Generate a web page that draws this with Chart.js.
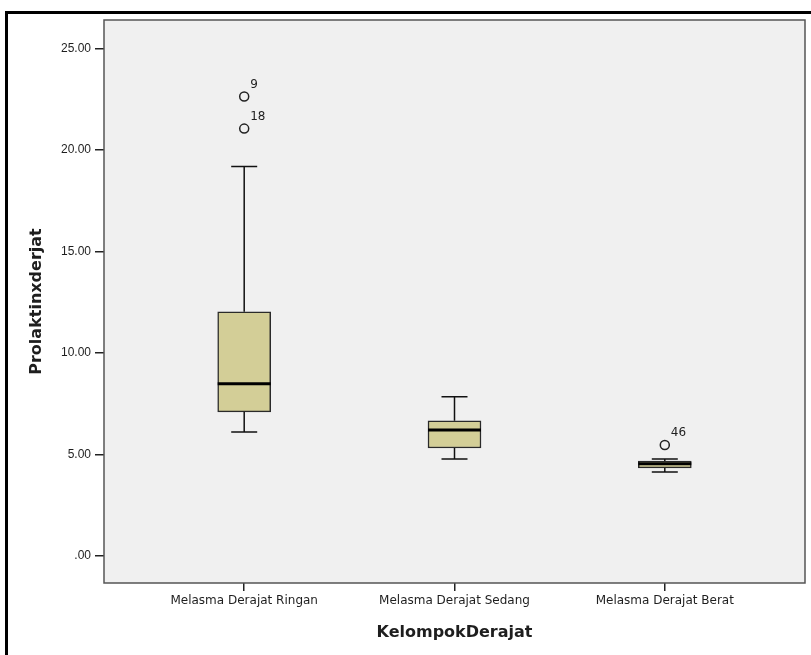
<!DOCTYPE html>
<html>
<head>
<meta charset="utf-8">
<title>Prolaktinxderjat by KelompokDerajat</title>
<script src="https://cdn.jsdelivr.net/npm/chart.js@4/dist/chart.umd.min.js"></script>
<style>
  body { margin: 0; background: #ffffff; }
  #wrap { width: 811px; height: 655px; }
</style>
</head>
<body>
<div id="wrap"><canvas id="boxChart" width="811" height="655"></canvas></div>
<script>
// Data
const categories = ['Melasma Derajat Ringan', 'Melasma Derajat Sedang', 'Melasma Derajat Berat'];
const lowerWhisker = [6.11, 4.78, 4.14];
const q1 = [7.10, 5.32, 4.34];
const median = [8.48, 6.21, 4.54];
const q3 = [12.03, 6.66, 4.68];
const upperWhisker = [19.18, 7.84, 4.78];

const outlierGroup = [0, 0, 2];
const outlierValue = [22.63, 21.05, 5.47];
const outlierCase = ['9', '18', '46'];

const yTicks = [0, 5, 10, 15, 20, 25];

const textColor = '#1e1e1e';

// whiskers, medians, frames and case labels drawn through the scales
const boxplotExtras = {
    id: 'boxplotExtras',
    beforeDraw(chart) {
        const { ctx, chartArea: a } = chart;
        ctx.save();
        ctx.fillStyle = '#f0f0f0';
        ctx.fillRect(a.left, a.top, a.right - a.left, a.bottom - a.top);
        // outer frame (only left/top edges visible)
        ctx.strokeStyle = '#000';
        ctx.lineWidth = 3;
        ctx.strokeRect(6.5, 12.5, 1000, 1000);
        ctx.restore();
    },
    afterDatasetsDraw(chart) {
        const { ctx } = chart;
        const xs = chart.scales.x, ys = chart.scales.y;
        const bars = chart.getDatasetMeta(0).data;
        ctx.save();
        categories.forEach((c, i) => {
            const cx = xs.getPixelForValue(i);
            const half = bars[i].width / 2;
            const capHalf = 13;
            ctx.strokeStyle = '#111';
            ctx.lineWidth = 1.5;
            ctx.beginPath();
            ctx.moveTo(cx, ys.getPixelForValue(q3[i]));
            ctx.lineTo(cx, ys.getPixelForValue(upperWhisker[i]));
            ctx.moveTo(cx, ys.getPixelForValue(q1[i]));
            ctx.lineTo(cx, ys.getPixelForValue(lowerWhisker[i]));
            ctx.moveTo(cx - capHalf, ys.getPixelForValue(upperWhisker[i]));
            ctx.lineTo(cx + capHalf, ys.getPixelForValue(upperWhisker[i]));
            ctx.moveTo(cx - capHalf, ys.getPixelForValue(lowerWhisker[i]));
            ctx.lineTo(cx + capHalf, ys.getPixelForValue(lowerWhisker[i]));
            ctx.stroke();
            ctx.strokeStyle = '#000';
            ctx.lineWidth = 3;
            ctx.beginPath();
            ctx.moveTo(cx - half, ys.getPixelForValue(median[i]));
            ctx.lineTo(cx + half, ys.getPixelForValue(median[i]));
            ctx.stroke();
        });
        ctx.restore();
    },
    afterDraw(chart) {
        const { ctx, chartArea: a } = chart;
        const xs = chart.scales.x, ys = chart.scales.y;
        ctx.save();
        ctx.strokeStyle = '#555';
        ctx.lineWidth = 1.5;
        ctx.strokeRect(a.left, a.top, a.right - a.left, a.bottom - a.top);
        ctx.fillStyle = textColor;
        ctx.font = '12px "DejaVu Sans"';
        ctx.textAlign = 'left';
        ctx.textBaseline = 'middle';
        outlierCase.forEach((t, i) => {
            const px = xs.getPixelForValue(outlierGroup[i]);
            const py = ys.getPixelForValue(outlierValue[i]);
            ctx.fillText(t, px + 6, py - 12);
        });
        ctx.restore();
    }
};

const ctx = document.getElementById('boxChart').getContext('2d');
new Chart(ctx, {
    type: 'bar',
    data: {
        datasets: [{
            label: 'Box',
            data: categories.map((c, i) => ({ x: i, y: [q1[i], q3[i]] })),
            backgroundColor: '#d3ce97',
            borderColor: '#2a2a2a',
            borderWidth: 1.5,
            borderSkipped: false,
            barThickness: 53
        }, {
            type: 'scatter',
            label: 'Outliers',
            data: outlierValue.map((v, i) => ({ x: outlierGroup[i], y: v })),
            pointRadius: 4.5,
            pointBackgroundColor: '#f0f0f0',
            pointBorderColor: '#222',
            pointBorderWidth: 1.5
        }]
    },
    options: {
        responsive: false,
        animation: false,
        layout: { padding: { top: 20, right: 3, left: 0, bottom: 0 } },
        plugins: {
            legend: { display: false },
            tooltip: { enabled: false }
        },
        scales: {
            x: {
                type: 'linear',
                min: -2 / 3,
                max: 8 / 3,
                offset: false,
                afterBuildTicks: s => { s.ticks = categories.map((c, i) => ({ value: i })); },
                afterFit: s => { s.height = 72; },
                ticks: {
                    callback: v => categories[v],
                    color: textColor,
                    font: { family: 'DejaVu Sans', size: 12 },
                    padding: 3,
                    maxRotation: 0,
                    autoSkip: false
                },
                grid: { offset: false, drawOnChartArea: false, drawTicks: true, tickLength: 8, color: '#222', lineWidth: 1.5 },
                border: { display: false },
                title: {
                    display: true,
                    text: 'KelompokDerajat',
                    color: textColor,
                    font: { family: 'DejaVu Sans', size: 16, weight: 'bold' },
                    padding: { top: 0, bottom: 13 }
                }
            },
            y: {
                min: -1.33,
                max: 26.4,
                afterBuildTicks: s => { s.ticks = yTicks.map(v => ({ value: v })); },
                afterFit: s => { s.width = 104; },
                ticks: {
                    callback: v => v === 0 ? '.00' : v.toFixed(2),
                    color: textColor,
                    font: { family: 'Liberation Sans', size: 12 },
                    padding: 4
                },
                grid: { drawOnChartArea: false, drawTicks: true, tickLength: 9, color: '#222', lineWidth: 1.5 },
                border: { display: false },
                title: {
                    display: true,
                    text: 'Prolaktinxderjat',
                    color: textColor,
                    font: { family: 'DejaVu Sans', size: 16, weight: 'bold' },
                    padding: { top: 27, bottom: 0 }
                }
            }
        }
    },
    plugins: [boxplotExtras]
});
</script>
</body>
</html>
